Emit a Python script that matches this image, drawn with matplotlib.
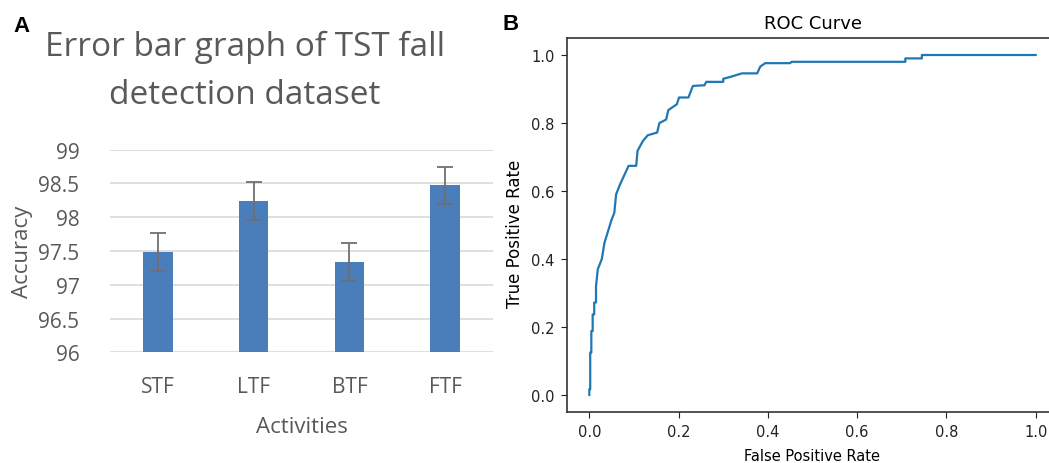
import numpy as np
import matplotlib
matplotlib.use("Agg")
import matplotlib.pyplot as plt

# panel A data
activities = ["STF", "LTF", "BTF", "FTF"]
accuracy = [97.49, 98.24, 97.34, 98.47]
acc_err = [0.28, 0.28, 0.28, 0.28]

# panel B, ROC curve (step points)
fpr = [0.0, 0.0, 0.002, 0.002, 0.0045, 0.0045, 0.0075, 0.0075, 0.011, 0.011, 0.015,
       0.015, 0.019, 0.028, 0.034, 0.042, 0.049, 0.056, 0.060, 0.069, 0.088, 0.105,
       0.108, 0.12, 0.131, 0.152, 0.157, 0.172, 0.177, 0.196, 0.201, 0.222, 0.232,
       0.258, 0.262, 0.30, 0.30, 0.317, 0.342, 0.376, 0.383, 0.394, 0.45, 0.453,
       0.708, 0.708, 0.745, 0.745, 1.0]
tpr = [0.0, 0.017, 0.017, 0.125, 0.125, 0.188, 0.188, 0.237, 0.237, 0.272, 0.272,
       0.32, 0.37, 0.40, 0.448, 0.482, 0.512, 0.536, 0.59, 0.62, 0.674, 0.674,
       0.718, 0.747, 0.764, 0.772, 0.80, 0.81, 0.838, 0.855, 0.875, 0.875, 0.909,
       0.911, 0.921, 0.921, 0.93, 0.936, 0.946, 0.946, 0.966, 0.976, 0.976, 0.98,
       0.98, 0.99, 0.99, 1.0, 1.0]

W, H = 1049, 464
fig = plt.figure(figsize=(W / 100, H / 100), dpi=100)

grey = "#595959"
excel_font = "Open Sans"

# ---- panel A: excel style bar chart
ax1 = fig.add_axes([110 / W, 1 - 353.3 / H, 383 / W, 202.6 / H])
x = np.arange(len(activities))
ax1.bar(x, accuracy, width=0.31, color="#4a7ebb", zorder=2)
ax1.errorbar(x, accuracy, yerr=acc_err, fmt="none", ecolor="#6f6f6f",
             elinewidth=1.3, capsize=6, capthick=1.3, zorder=3)
ax1.set_xlim(-0.5, 3.5)
ax1.set_ylim(96, 99)
ax1.set_yticks([96, 96.5, 97, 97.5, 98, 98.5, 99])
ax1.set_yticklabels(["96", "96.5", "97", "97.5", "98", "98.5", "99"])
ax1.set_xticks(x)
ax1.set_xticklabels(activities)
ax1.yaxis.grid(True, color="#d9d9d9", linewidth=1.2, zorder=0)
ax1.set_axisbelow(True)
for s in ax1.spines.values():
    s.set_visible(False)
ax1.tick_params(axis="both", length=0, colors=grey, labelsize=15)
ax1.tick_params(axis="y", pad=22)
ax1.tick_params(axis="x", pad=17)
for lab in ax1.get_xticklabels() + ax1.get_yticklabels():
    lab.set_fontfamily(excel_font)
ax1.set_xlabel("Activities", fontsize=16, color=grey, family=excel_font, labelpad=14)
ax1.set_ylabel("Accuracy", fontsize=16, color=grey, family=excel_font)
ax1.yaxis.set_label_coords((33 - 110) / 383, 0.5)

fig.text(245 / W, 1 - 47 / H, "Error bar graph of TST fall", ha="center", va="center",
         fontsize=24, color=grey, family=excel_font)
fig.text(245 / W, 1 - 95 / H, "detection dataset", ha="center", va="center",
         fontsize=24, color=grey, family=excel_font)

# ---- panel B: roc curve
ax2 = fig.add_axes([567 / W, 1 - 413 / H, 491 / W, 374 / H])
ax2.plot(fpr, tpr, color="#1f77b4", linewidth=1.6)
ax2.set_xlim(-0.05, 1.05)
ax2.set_ylim(-0.05, 1.05)
ax2.set_xticks([0.0, 0.2, 0.4, 0.6, 0.8, 1.0])
ax2.set_yticks([0.0, 0.2, 0.4, 0.6, 0.8, 1.0])
ax2.tick_params(labelsize=10.5, colors="#222222", length=4.5, pad=4.5)
for s in ax2.spines.values():
    s.set_color("#333333")
    s.set_linewidth(1.2)
ax2.set_title("ROC Curve", fontsize=13, pad=7)
ax2.set_xlabel("False Positive Rate", fontsize=10.5, labelpad=6)
ax2.set_ylabel("True Positive Rate", fontsize=12)
ax2.yaxis.set_label_coords((524 - 567) / 491, 0.48)

fig.text(21 / W, 1 - 26 / H, "A", fontsize=16, fontweight="bold", family="Liberation Sans",
         ha="center", va="center")
fig.text(511 / W, 1 - 25 / H, "B", fontsize=16, fontweight="bold", family="Liberation Sans",
         ha="center", va="center")

fig.savefig("out.png", dpi=100)
